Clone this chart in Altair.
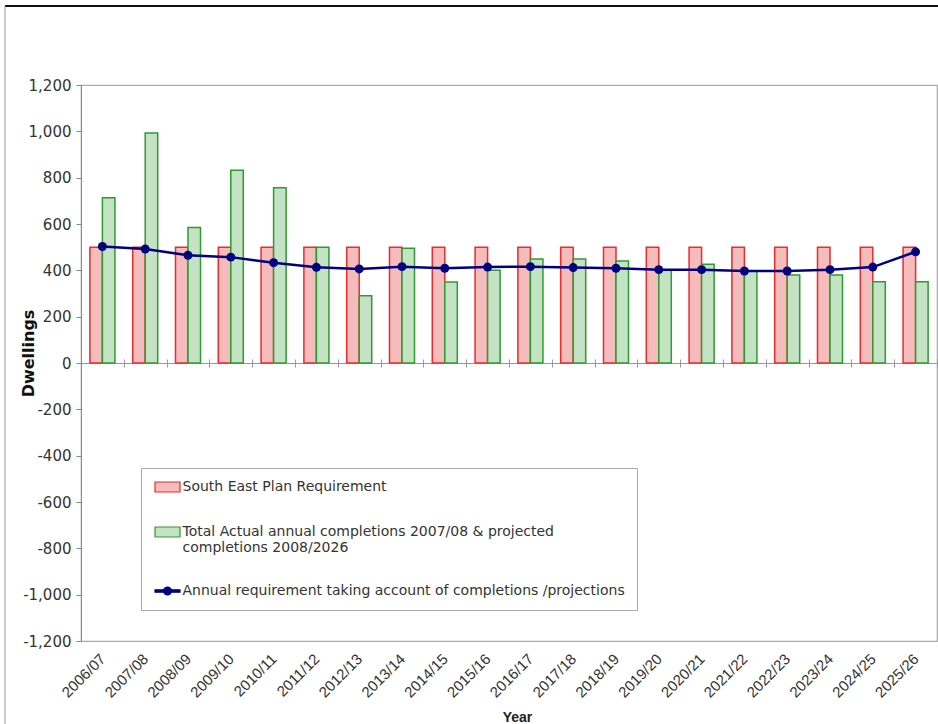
import altair as alt
import pandas as pd

years = ["2006/07", "2007/08", "2008/09", "2009/10", "2010/11", "2011/12", "2012/13",
         "2013/14", "2014/15", "2015/16", "2016/17", "2017/18", "2018/19", "2019/20",
         "2020/21", "2021/22", "2022/23", "2023/24", "2024/25", "2025/26"]

plan_requirement = [500] * 20
completions = [713, 993, 585, 832, 757, 500, 290, 495, 350, 400,
               449, 449, 440, 403, 426, 397, 380, 380, 351, 351]
annual_requirement = [503, 492, 465, 457, 433, 413, 406, 416, 409, 414,
                      416, 412, 409, 403, 403, 397, 397, 403, 414, 480]

S1 = "South East Plan Requirement"
S2 = "Total Actual annual completions 2007/08 & projected completions 2008/2026"
S3 = "Annual requirement taking account of completions /projections"
series = [S1, S2, S3]

fill_colors = ["#f4bcbc", "#c4e2c4", "#000080"]
stroke_colors = ["#ee2a2a", "#2f9a2f", "#000080"]

bar_df = pd.DataFrame({
    "year": years * 2,
    "series": [S1] * len(years) + [S2] * len(years),
    "value": plan_requirement + completions,
})
line_df = pd.DataFrame({"year": years, "series": S3, "value": annual_requirement})

fill_scale = alt.Scale(domain=series, range=fill_colors)
stroke_scale = alt.Scale(domain=series, range=stroke_colors)
y_scale = alt.Scale(domain=[-1200, 1200], nice=False)
x_scale = alt.Scale(domain=years, paddingInner=0, paddingOuter=0)

# legend symbols: size 100 -> unit = 5 px, so +-2.5 spans 25 px
RECT = "M-2.5,-1L2.5,-1L2.5,1L-2.5,1Z"
LINE_DOT = ("M-2.5,-0.25L2.5,-0.25L2.5,0.25L-2.5,0.25Z "
            "M-0.8,0A0.8,0.8,0,1,1,0.8,0A0.8,0.8,0,1,1,-0.8,0Z")

legend = alt.Legend(
    title=None,
    orient="none",
    legendX=60,
    legendY=383,
    padding=12,
    fillColor="white",
    strokeColor="#aaaaaa",
    labelFont="DejaVu Sans",
    labelFontSize=14,
    labelColor="#333333",
    labelLimit=600,
    labelOffset=8,
    symbolOffset=7.5,
    symbolSize=100,
    symbolStrokeWidth=1.2,
    rowPadding=29,
    labelExpr=("datum.value == '" + S2 + "' ? ['Total Actual annual completions 2007/08 & projected', "
               "'completions 2008/2026'] : datum.label"),
    symbolType={"expr": "datum.value == '" + S3 + "' ? '" + LINE_DOT + "' : '" + RECT + "'"},
    symbolStrokeColor={"expr": "scale('stroke', datum.value)"},
)

bottom_axis = alt.Axis(
    orient="bottom", offset=-278, domain=True, domainColor="#999999",
    ticks=True, tickSize=4, tickColor="#999999", tickBand="extent",
    labelAngle=-45, labelAlign="right", labelBaseline="middle", labelPadding=289,
    labelFont="Liberation Sans", labelFontSize=15, labelColor="#333333", labelOverlap=False,
    title="Year", titleX=436, titleY=354, titleFont="Liberation Sans", titleFontSize=14,
    titleFontWeight="bold", titleColor="#222222", titleBaseline="middle", grid=False,
)
top_axis = alt.Axis(
    orient="top", offset=-278, domain=False, labels=False, ticks=True, tickSize=4,
    tickColor="#999999", tickBand="extent", title=None, grid=False,
)
y_axis = alt.Axis(
    values=list(range(-1200, 1201, 200)), grid=False,
    labelExpr="replace(format(datum.value, ',.0f'), '\u2212', '-')",
    domainColor="#888888", tickColor="#888888", tickSize=5, labelPadding=5,
    labelFont="DejaVu Sans", labelFontSize=15, labelColor="#333333",
    title="Dwellings", titleFont="DejaVu Sans", titleFontSize=16, titleFontWeight="bold",
    titleColor="#111111", titleX=-53, titleY=268, titleAngle=-90,
    titleAlign="center", titleBaseline="middle",
)

bars = alt.Chart(bar_df).mark_bar(strokeWidth=1.5).encode(
    x=alt.X("year:N", sort=years, scale=x_scale, axis=bottom_axis),
    xOffset=alt.XOffset("series:N", sort=[S1, S2],
                        scale=alt.Scale(domain=[S1, S2], paddingInner=0, paddingOuter=0.71)),
    y=alt.Y("value:Q", scale=y_scale, axis=y_axis),
    fill=alt.Fill("series:N", scale=fill_scale, legend=legend),
    stroke=alt.Stroke("series:N", scale=stroke_scale, legend=None),
)

line = alt.Chart(line_df).mark_line(strokeWidth=2.5).encode(
    x=alt.X("year:N", sort=years, scale=x_scale, axis=top_axis),
    y=alt.Y("value:Q", scale=y_scale, axis=y_axis),
    stroke=alt.Stroke("series:N", scale=stroke_scale, legend=None),
)

points = alt.Chart(line_df).mark_circle(size=80, opacity=1).encode(
    x=alt.X("year:N", sort=years, scale=x_scale, axis=None),
    y=alt.Y("value:Q", scale=y_scale, axis=y_axis),
    fill=alt.Fill("series:N", scale=fill_scale, legend=legend),
)

frame_df = pd.DataFrame({"k": [0]})
frame_top = alt.Chart(frame_df).mark_rule(color="#111111", strokeWidth=2).encode(
    x=alt.value(-76), x2=alt.value(857), y=alt.value(-79)
)
frame_left = alt.Chart(frame_df).mark_rule(color="#999999", strokeWidth=1).encode(
    x=alt.value(-76), y=alt.value(-79), y2=alt.value(639)
)

chart = (
    alt.layer(bars, line, points, frame_top, frame_left)
    .resolve_axis(x="independent")
    .properties(
        width=856, height=556,
        autosize=alt.AutoSizeParams(type="none"),
        padding={"left": 81, "top": 85, "right": 1, "bottom": 83},
        background="white",
    )
    .configure_view(stroke="#aaaaaa", strokeWidth=1.2)
)

chart.save("out.html", embed_options={"renderer": "svg", "actions": False})
